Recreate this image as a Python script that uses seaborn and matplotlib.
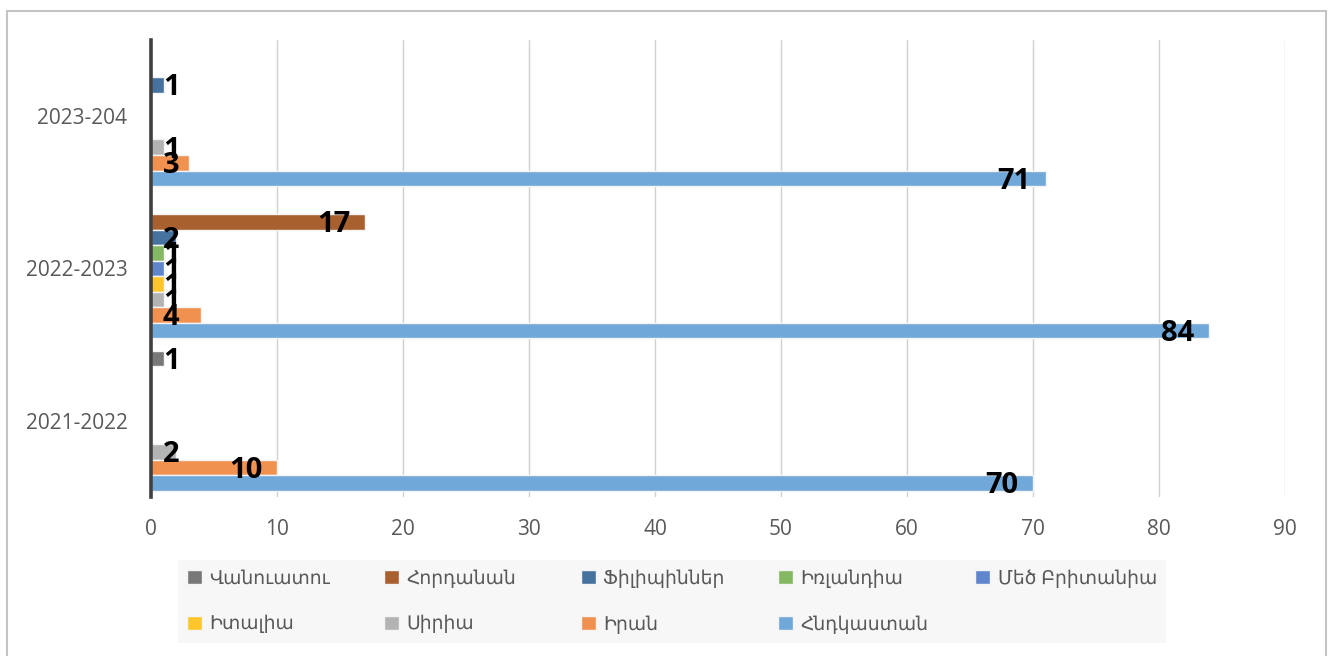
import matplotlib
matplotlib.use("Agg")
import numpy as np
import pandas as pd
import matplotlib.pyplot as plt
import seaborn as sns
from matplotlib.patches import Patch, Rectangle

# ---------------- data ----------------
periods = ["2021-2022", "2022-2023", "2023-204"]
countries = ["Վանուատու", "Հորդանան", "Ֆիլիպիններ", "Իռլանդիա", "Մեծ Բրիտանիա",
             "Իտալիա", "Սիրիա", "Իրան", "Հնդկաստան"]
vanuatu = [1, None, None]
jordan = [None, 17, None]
philippines = [None, 2, 1]
ireland = [None, 1, None]
great_britain = [None, 1, None]
italy = [None, 1, None]
syria = [2, 1, 1]
iran = [10, 4, 3]
india = [70, 84, 71]

colors = ["#787878", "#A9602F", "#46729F", "#84B862", "#5F86CC",
          "#FFC62B", "#B3B3B3", "#F0914F", "#70A8DA"]

series = [vanuatu, jordan, philippines, ireland, great_britain, italy, syria, iran, india]
rows = []
for name, vals in zip(countries, series):
    for p, v in zip(periods, vals):
        if v is not None:
            rows.append({"period": p, "country": name, "value": v})
df = pd.DataFrame(rows)

# ---------------- style ----------------
sns.set_theme(style="white")
plt.rcParams["font.family"] = ["Open Sans", "DejaVu Sans"]
grey_txt = "#595959"

fig = plt.figure(figsize=(13.3, 6.56), dpi=100)
ax = fig.add_axes([151 / 1330, 1 - 497 / 656, (1285 - 151) / 1330, (497 - 40) / 656])

sns.barplot(data=df, x="value", y="period", hue="country",
            order=periods[::-1], hue_order=countries, palette=colors,
            width=0.918, orient="h", errorbar=None, saturation=1,
            edgecolor="#f4f4f4", linewidth=1.0, legend=False, ax=ax)

ax.set_xlim(0, 90)
ax.set_xticks(np.arange(0, 91, 10))
ax.set_ylim(2.5, -0.5)
ax.set_xlabel("")
ax.set_ylabel("")
ax.xaxis.grid(True, color="#d0d0d0", linewidth=1.0)
ax.set_axisbelow(True)
for s in ["top", "right", "bottom"]:
    ax.spines[s].set_visible(False)
ax.spines["left"].set_color("#404040")
ax.spines["left"].set_linewidth(2.6)
ax.spines["left"].set_zorder(5)
ax.tick_params(axis="x", length=0, pad=16, labelsize=15, labelcolor=grey_txt)
ax.tick_params(axis="y", length=0, pad=17, labelsize=15, labelcolor=grey_txt)

# data labels
for cont in ax.containers:
    for bar in cont:
        w = bar.get_width()
        if w is None or np.isnan(w):
            continue
        yc = bar.get_y() + bar.get_height() / 2
        xc = max(w - 2.5, 1.6)
        ax.annotate(f"{int(round(w))}", (xc, yc), xytext=(0, -2.0),
                    textcoords="offset points", ha="center", va="center",
                    fontsize=21, fontweight="bold", color="black",
                    family=["Open Sans", "DejaVu Sans"], zorder=6)

# legend (row-major order like the reference: 5 in the first row, 4 in the second)
order = [0, 5, 1, 6, 2, 7, 3, 8, 4]
handles = [Patch(facecolor=c, edgecolor="#f4f4f4", linewidth=1.0) for c in colors]
leg = fig.legend([handles[i] for i in order], [countries[i] for i in order],
                 ncol=5, loc="upper left",
                 bbox_to_anchor=(178 / 1330, 1 - 560 / 656),
                 frameon=True, fancybox=False, facecolor="#f7f7f7",
                 edgecolor="none", framealpha=1.0, fontsize=13.5,
                 labelcolor=grey_txt, handlelength=0.78, handleheight=0.78,
                 handletextpad=0.4, labelspacing=1.45, borderpad=0.5,
                 columnspacing=0.0, borderaxespad=0.0)
try:
    box = leg._legend_handle_box
    box.sep = 0
    cols = box.get_children()
    for col in cols[:-1]:
        col.align = "left"
        col.width = 197
except Exception:
    pass

# outer chart frame
fig.patches.append(Rectangle((7 / 1330, -0.1), (1326 - 7) / 1330, 1.1 - 11 / 656,
                             transform=fig.transFigure, fill=False,
                             edgecolor="#c4c4c4", linewidth=1.5))

fig.savefig("out.png", dpi=100)
